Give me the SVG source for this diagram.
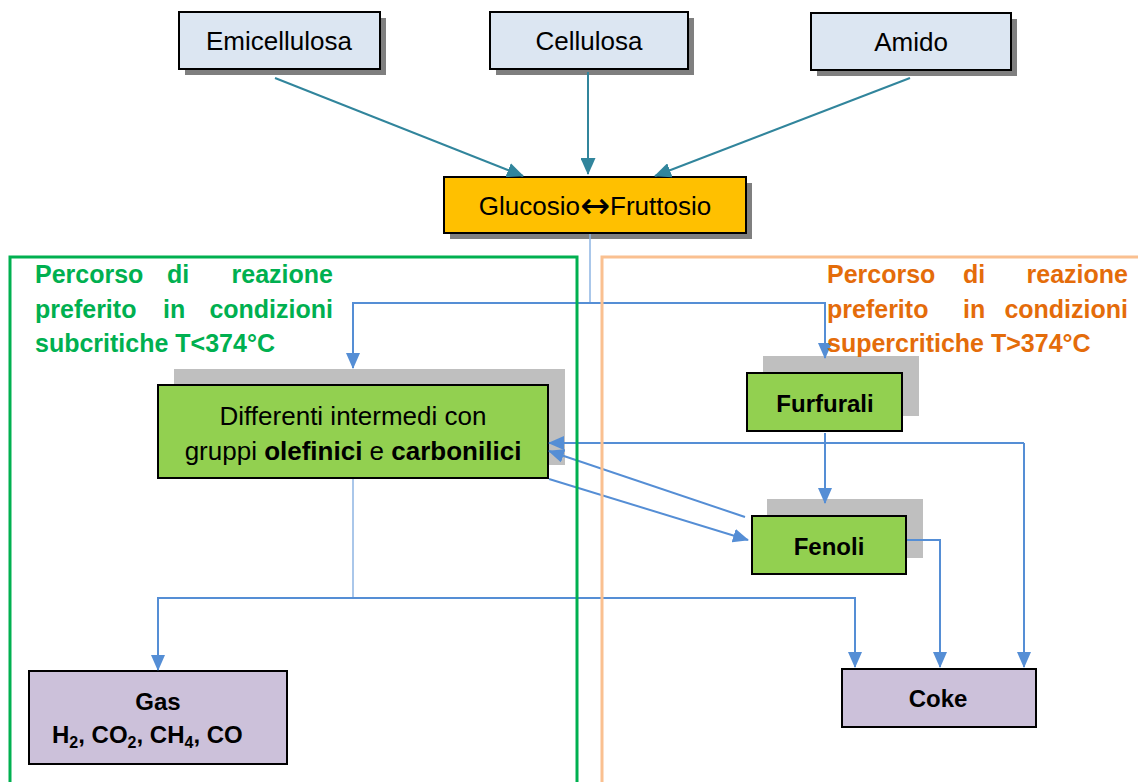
<svg xmlns="http://www.w3.org/2000/svg" width="1138" height="782" viewBox="0 0 1138 782">
<defs>
<marker id="ab" markerUnits="userSpaceOnUse" markerWidth="16" markerHeight="14" refX="15" refY="7" orient="auto"><path d="M0,0 L16,7 L0,14 z" fill="#558ED5"/></marker>
<marker id="at" markerUnits="userSpaceOnUse" markerWidth="17" markerHeight="15" refX="16" refY="7.5" orient="auto"><path d="M0,0 L17,7.5 L0,15 z" fill="#31859C"/></marker>
<style>
.bx{stroke:#000;stroke-width:2}
.top{fill:#DCE6F2}
.sh{fill:#7F7F7F}
.gs{fill:#BFBFBF}
.gr{fill:#92D050}
.pu{fill:#CCC1DA}
.t{font-family:"Liberation Sans",Arial,sans-serif;font-size:26px;fill:#000}
.b{font-family:"Liberation Sans",Arial,sans-serif;font-size:24px;font-weight:bold;fill:#000}
.lg{font-family:"Liberation Sans",Arial,sans-serif;font-size:25px;font-weight:bold;fill:#00B050}
.lo{font-family:"Liberation Sans",Arial,sans-serif;font-size:25px;font-weight:bold;fill:#E46C0A}
.c{fill:none;stroke:#558ED5;stroke-width:2}
.cl{fill:none;stroke:#8EB4E3;stroke-width:1.5}
.ct{fill:none;stroke:#31859C;stroke-width:2}
</style>
</defs>
<g id="emicellulosa">
<rect class="sh" x="185" y="18" width="201" height="57"/>
<rect class="bx top" x="179" y="12" width="201" height="57"/>
<text class="t" x="279" y="50" text-anchor="middle">Emicellulosa</text>
</g>
<g id="cellulosa">
<rect class="sh" x="496" y="18" width="198" height="57"/>
<rect class="bx top" x="490" y="12" width="198" height="57"/>
<text class="t" x="589" y="50" text-anchor="middle">Cellulosa</text>
</g>
<g id="amido">
<rect class="sh" x="817" y="19" width="200" height="57"/>
<rect class="bx top" x="811" y="13" width="200" height="57"/>
<text class="t" x="911" y="51" text-anchor="middle">Amido</text>
</g>
<g id="glucosio">
<rect class="sh" x="450" y="183" width="302" height="56"/>
<rect class="bx" fill="#FFC000" x="444" y="177" width="302" height="56"/>
<text class="t" x="595" y="215" text-anchor="middle">Glucosio<tspan font-family="'DejaVu Sans',sans-serif" font-size="36" dy="3">↔</tspan><tspan dy="-3">Fruttosio</tspan></text>
</g>
<g id="differenti">
<rect class="gs" x="174" y="369" width="391" height="96"/>
<rect class="bx gr" x="158" y="385" width="390" height="93"/>
<text class="t" x="353" y="425" text-anchor="middle">Differenti intermedi con</text>
<text class="t" x="353" y="460" text-anchor="middle">gruppi <tspan font-weight="bold">olefinici</tspan> e <tspan font-weight="bold">carbonilici</tspan></text>
</g>
<g id="furfurali">
<rect class="gs" x="763" y="356" width="156" height="60"/>
<rect class="bx gr" x="747" y="373" width="155" height="58"/>
<text class="b" x="825" y="412" text-anchor="middle">Furfurali</text>
</g>
<g id="fenoli">
<rect class="gs" x="767" y="499" width="156" height="59"/>
<rect class="bx gr" x="752" y="516" width="154" height="58"/>
<text class="b" x="829" y="555" text-anchor="middle">Fenoli</text>
</g>
<g id="gas">
<rect class="bx pu" x="29" y="671" width="258" height="93"/>
<text class="b" x="158" y="710" text-anchor="middle">Gas</text>
<text class="b" x="52" y="743">H<tspan font-size="16" dy="5">2</tspan><tspan dy="-5">, CO</tspan><tspan font-size="16" dy="5">2</tspan><tspan dy="-5">, CH</tspan><tspan font-size="16" dy="5">4</tspan><tspan dy="-5">, CO</tspan></text>
</g>
<g id="coke">
<rect class="bx pu" x="842" y="669" width="194" height="58"/>
<text class="b" x="938" y="707" text-anchor="middle">Coke</text>
</g>
<g id="connectors">
<path class="ct" d="M275,78 L523,176" marker-end="url(#at)"/>
<path class="ct" d="M588,72 L588,174" marker-end="url(#at)"/>
<path class="ct" d="M910,78 L655,176" marker-end="url(#at)"/>
<path class="cl" d="M590,234 V303"/>
<path class="c" d="M590,303 H353 V368" marker-end="url(#ab)"/>
<path class="c" d="M590,303 H825 V358" marker-end="url(#ab)"/>
<path class="c" d="M825,433 V503" marker-end="url(#ab)"/>
<path class="c" d="M1024,443 H549" marker-end="url(#ab)"/>
<path class="c" d="M1024,443 V667" marker-end="url(#ab)"/>
<path class="c" d="M907,540 H940 V667" marker-end="url(#ab)"/>
<path class="c" d="M745,517 L549,451" marker-end="url(#ab)"/>
<path class="c" d="M549,479 L748,540" marker-end="url(#ab)"/>
<path class="cl" d="M353,479 V598"/>
<path class="c" d="M353,598 H158 V670" marker-end="url(#ab)"/>
<path class="c" d="M353,598 H855 V667" marker-end="url(#ab)"/>
</g>
<g id="regions">
<rect x="10" y="257" width="567" height="540" fill="none" stroke="#00B050" stroke-width="3"/>
<rect x="602" y="257" width="560" height="540" fill="none" stroke="#FAC090" stroke-width="3"/>
<text class="lg" x="35" y="283">Percorso</text>
<text class="lg" x="167" y="283">di</text>
<text class="lg" x="333" y="283" text-anchor="end">reazione</text>
<text class="lg" x="35" y="318">preferito</text>
<text class="lg" x="163" y="318">in</text>
<text class="lg" x="333" y="318" text-anchor="end">condizioni</text>
<text class="lg" x="35" y="352">subcritiche T&lt;374°C</text>
<text class="lo" x="827" y="283">Percorso</text>
<text class="lo" x="963" y="283">di</text>
<text class="lo" x="1128" y="283" text-anchor="end">reazione</text>
<text class="lo" x="827" y="318">preferito</text>
<text class="lo" x="963" y="318">in</text>
<text class="lo" x="1128" y="318" text-anchor="end">condizioni</text>
<text class="lo" x="827" y="352">supercritiche T&gt;374°C</text>
</g>
</svg>
